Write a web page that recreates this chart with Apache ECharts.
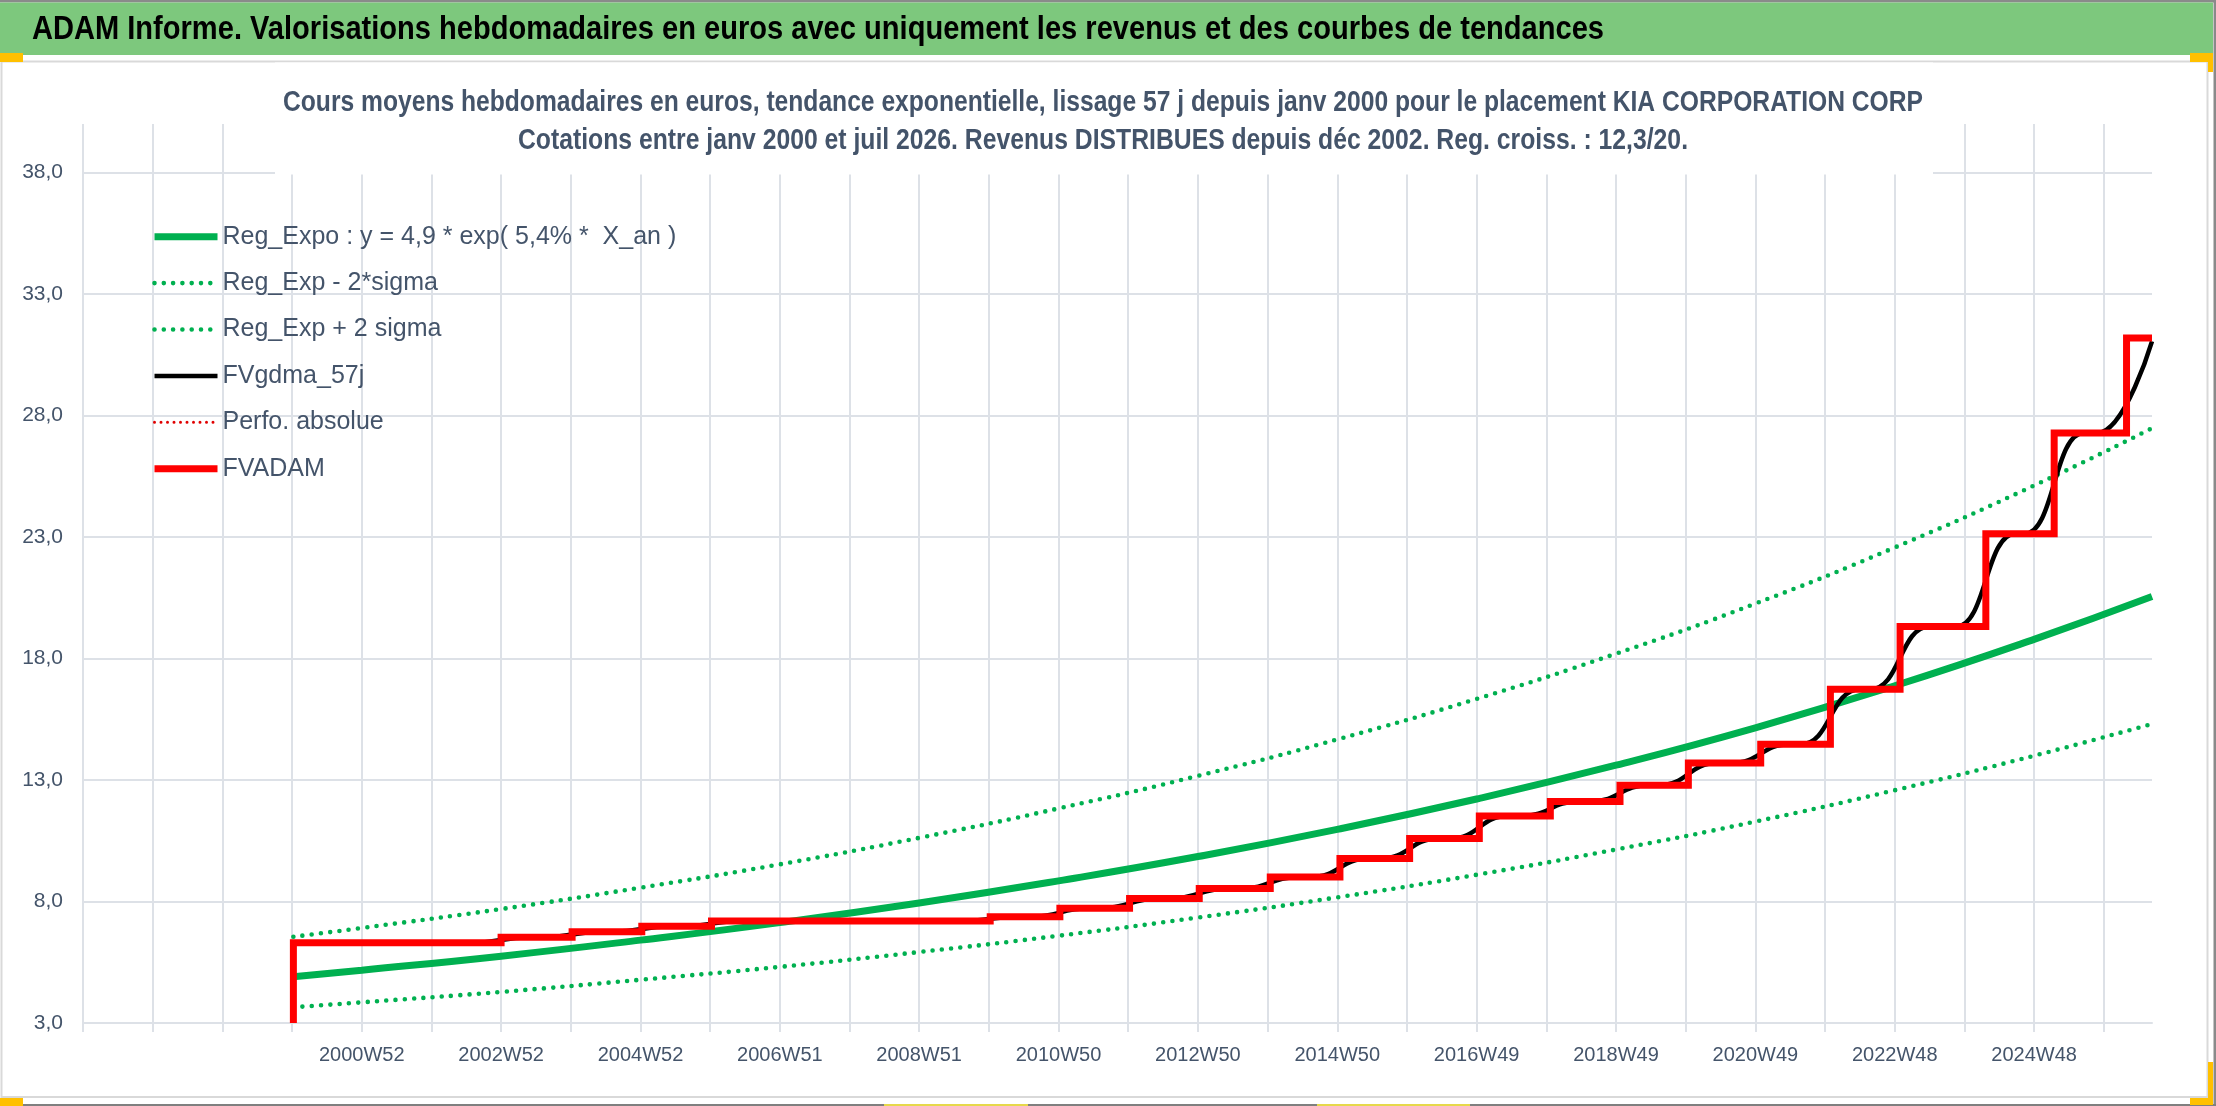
<!DOCTYPE html>
<html>
<head>
<meta charset="utf-8">
<script src="https://cdn.jsdelivr.net/npm/echarts@6.0.0/dist/echarts.min.js"></script>
<style>
html, body { margin: 0; padding: 0; background: #ffffff; }
#chart { width: 2216px; height: 1106px; }
</style>
</head>
<body>
<div id="chart"></div>
<script>
// ================= DATA =================
const mainTitle = 'ADAM Informe. Valorisations hebdomadaires en euros avec uniquement les revenus et des courbes de tendances';
const subTitle1 = 'Cours moyens hebdomadaires en euros, tendance exponentielle, lissage 57 j depuis janv 2000 pour le placement KIA CORPORATION CORP';
const subTitle2 = 'Cotations entre janv 2000 et juil 2026. Revenus DISTRIBUES depuis déc 2002. Reg. croiss. : 12,3/20.';

// weekly (ISO week) category axis
const firstWeek = '1997W01';
const weekCount = 1545;
const xTickLabels = ['2000W52', '2002W52', '2004W52', '2006W51', '2008W51', '2010W50', '2012W50',
  '2014W50', '2016W49', '2018W49', '2020W49', '2022W48', '2024W48'];
const yTicks = [3, 8, 13, 18, 23, 28, 33, 38];

const seriesNames = ['Reg_Expo : y = 4,9 * exp( 5,4% *  X_an )', 'Reg_Exp - 2*sigma', 'Reg_Exp + 2 sigma',
  'FVgdma_57j', 'Perfo. absolue', 'FVADAM'];

// exponential trend and its bands, read at the labelled weeks
const trendWeeks = ['2000W01', '2000W52', '2002W52', '2004W52', '2006W51', '2008W51', '2010W50', '2012W50',
  '2014W50', '2016W49', '2018W49', '2020W49', '2022W48', '2024W48', '2026W32'];
const regExpo = [4.90, 5.17, 5.75, 6.41, 7.13, 7.94, 8.85, 9.85, 10.97, 12.22, 13.61, 15.15, 16.88, 18.79, 20.55];
const regExpMinus2Sigma = [3.65, 3.85, 4.28, 4.78, 5.31, 5.92, 6.59, 7.34, 8.17, 9.10, 10.14, 11.29, 12.58, 14.00, 15.31];
const regExpPlus2Sigma = [6.55, 6.91, 7.69, 8.57, 9.53, 10.62, 11.83, 13.17, 14.67, 16.34, 18.20, 20.26, 22.57, 25.12, 27.48];

// FVADAM step line: week where the level changes, and the new level
const adamWeeks = ['2000W01', '2000W01', '2002W52', '2004W01', '2004W53', '2005W52', '2009W52', '2010W51',
  '2011W51', '2012W51', '2013W52', '2014W52', '2015W52', '2016W51', '2017W52', '2018W52', '2019W51',
  '2020W53', '2021W52', '2022W52', '2024W12', '2025W11', '2026W13', '2026W32'];
const fvAdam = [3.00, 6.30, 6.53, 6.76, 6.98, 7.20, 7.37, 7.72, 8.12, 8.54, 9.01, 9.77, 10.59, 11.52,
  12.12, 12.79, 13.70, 14.47, 16.74, 19.32, 23.14, 27.28, 31.19, 31.19];

// FVgdma_57j smoothed curve: weeks where it leaves one level and reaches the next one
const gdmaWeeks = ['2000W01', '2002W30', '2003W22', '2003W31', '2004W23', '2004W31', '2005W22', '2005W30',
  '2006W22', '2009W30', '2010W21', '2010W29', '2011W21', '2011W29', '2012W21', '2012W29', '2013W21',
  '2013W30', '2014W22', '2014W30', '2015W22', '2015W30', '2016W21', '2016W29', '2017W21', '2017W30',
  '2018W22', '2018W30', '2019W22', '2019W29', '2020W21', '2020W31', '2021W22', '2021W30', '2022W22',
  '2022W30', '2023W22', '2023W42', '2024W34', '2024W41', '2025W33', '2025W43', '2026W32'];
const fvGdma57j = [6.30, 6.30, 6.53, 6.53, 6.76, 6.76, 6.98, 6.98, 7.20, 7.20, 7.37, 7.37, 7.72, 7.72, 8.12,
  8.12, 8.54, 8.54, 9.01, 9.01, 9.77, 9.77, 10.59, 10.59, 11.52, 11.52, 12.12, 12.12, 12.79, 12.79, 13.70,
  13.70, 14.47, 14.47, 16.74, 16.74, 19.32, 19.32, 23.14, 23.14, 27.28, 27.28, 31.05];

const perfoAbsolue = [];

// ================= HELPERS =================
const DAY = 86400000;
function isoWeekMonday(label) {
  const parts = label.split('W').map(Number);
  const jan4 = Date.UTC(parts[0], 0, 4);
  const dow = (new Date(jan4).getUTCDay() + 6) % 7;
  return jan4 - dow * DAY + (parts[1] - 1) * 7 * DAY;
}
function isoWeekLabel(t) {
  const thu = new Date(t + 3 * DAY);
  const y = thu.getUTCFullYear();
  const w = Math.floor((thu.getTime() - Date.UTC(y, 0, 1)) / DAY / 7) + 1;
  return y + 'W' + String(w).padStart(2, '0');
}
const startMonday = isoWeekMonday(firstWeek);
const categories = [];
for (let i = 0; i < weekCount; i++) categories.push(isoWeekLabel(startMonday + i * 7 * DAY));
const tickSet = new Set(xTickLabels);
const pairs = (weeks, vals) => weeks.map((w, i) => [w, vals[i]]);

const measureCtx = document.createElement('canvas').getContext('2d');
function fontAvailable(name) {
  const t = 'abcdefghijklmnopqrstuvwxyzABCDEFGHIJ0123456789';
  measureCtx.font = '40px monospace';
  const w1 = measureCtx.measureText(t).width;
  measureCtx.font = '40px "' + name + '", monospace';
  const w2 = measureCtx.measureText(t).width;
  return Math.abs(w1 - w2) > 0.5;
}
const NARROW = fontAvailable('Liberation Sans Narrow');
const FF = NARROW ? 'Liberation Sans Narrow' : 'Liberation Sans';
const fs = s => Math.round(NARROW ? s : s * 0.82);
function fitScale(text, weight, size, target) {
  measureCtx.font = weight + ' ' + size + 'px "' + FF + '"';
  return target / measureCtx.measureText(text).width;
}

// ================= STYLE =================
const GREEN = '#00B050';
const RED = '#FF0000';
const TEXT = '#44546A';
const GRID = '#DDE1E7';

function fittedText(text, left, midY, size, target, color, z) {
  return {
    type: 'text', x: left, y: midY, z: z, silent: true,
    scaleX: fitScale(text, 'bold', size, target),
    style: {
      text: text, fontFamily: FF, fontSize: size, fontWeight: 'bold', fill: color,
      align: 'left', textAlign: 'left', verticalAlign: 'middle', textVerticalAlign: 'middle'
    }
  };
}
const rect = (x, y, w, h, fill, z) => ({ type: 'rect', z: z || 1, silent: true, shape: { x, y, width: w, height: h }, style: { fill } });

const option = {
  animation: false,
  backgroundColor: '#ffffff',
  textStyle: { fontFamily: FF },
  grid: { left: 83, right: 64, top: 124, bottom: 83 },
  legend: {
    orient: 'vertical', left: 151, top: 220.7, padding: 0,
    itemWidth: 63, itemHeight: 24, itemGap: 14.4, selectedMode: false,
    lineStyle: { width: 'inherit' },
    itemStyle: { opacity: 0, color: 'rgba(0,0,0,0)', borderWidth: 0 },
    textStyle: { color: TEXT, fontSize: fs(31), fontFamily: FF, lineHeight: 32 },
    data: seriesNames
  },
  graphic: [
    rect(0, 0, 2216, 2.5, '#8A8A8A'),
    rect(0, 2.5, 2213, 52.5, '#7DC87D'),
    rect(2213.5, 0, 2.5, 1106, '#8A8A8A'),
    rect(0, 1104, 2216, 2, '#7F7F7F'),
    { type: 'rect', z: 1, silent: true, shape: { x: 1.5, y: 61.5, width: 2206, height: 1035.5 }, style: { fill: 'none', stroke: '#D9D9D9', lineWidth: 2 } },
    rect(0, 53, 23, 9, '#FFC000', 3),
    rect(0, 1098, 23, 8, '#FFC000', 3),
    rect(2190, 53, 23, 9, '#FFC000', 3),
    rect(2208, 62, 5, 10, '#FFC000', 3),
    rect(2208, 1062, 5, 36, '#FFC000', 3),
    rect(2190, 1098, 23, 7, '#FFC000', 3),
    rect(884, 1104, 144, 2, '#E6D84A', 3),
    rect(1317, 1104, 153, 2, '#E6D84A', 3),
    rect(275, 62.5, 1658, 112, '#ffffff', 5),
    fittedText(mainTitle, 32, 30, 33, 1572, '#000000', 6),
    fittedText(subTitle1, 283, 103, 29, 1640, TEXT, 6),
    fittedText(subTitle2, 518, 141, 29, 1170, TEXT, 6)
  ],
  xAxis: {
    type: 'category', data: categories, boundaryGap: false,
    axisLine: { show: true, lineStyle: { color: GRID, width: 2 } },
    axisTick: { show: true, interval: 51, length: 9, lineStyle: { color: GRID, width: 2 } },
    axisLabel: {
      interval: (i, v) => tickSet.has(v), margin: 22,
      fontSize: fs(24), fontFamily: FF, color: TEXT
    },
    splitLine: { show: true, interval: 51, lineStyle: { color: GRID, width: 2 } }
  },
  yAxis: {
    type: 'value', min: 3, max: 40,
    axisLine: { show: false },
    axisTick: { show: false, customValues: yTicks },
    axisLabel: {
      customValues: yTicks, margin: 20, fontSize: fs(25), fontFamily: FF, color: TEXT,
      formatter: v => Number(v).toFixed(1).replace('.', ',')
    },
    splitLine: { show: true, customValues: yTicks, lineStyle: { color: GRID, width: 2 } }
  },
  series: [
    {
      name: seriesNames[0], type: 'line', data: pairs(trendWeeks, regExpo), smooth: true,
      symbol: 'none', silent: true, itemStyle: { color: GREEN },
      lineStyle: { color: GREEN, width: 7 }
    },
    {
      name: seriesNames[1], type: 'line', data: pairs(trendWeeks, regExpMinus2Sigma), smooth: true,
      symbol: 'none', silent: true, itemStyle: { color: GREEN },
      lineStyle: { color: GREEN, width: 4.6, type: [0, 9.3], cap: 'round' }
    },
    {
      name: seriesNames[2], type: 'line', data: pairs(trendWeeks, regExpPlus2Sigma), smooth: true,
      symbol: 'none', silent: true, itemStyle: { color: GREEN },
      lineStyle: { color: GREEN, width: 4.6, type: [0, 9.3], cap: 'round' }
    },
    {
      name: seriesNames[3], type: 'line', data: pairs(gdmaWeeks, fvGdma57j),
      smooth: 0.5, smoothMonotone: 'x',
      symbol: 'none', silent: true, itemStyle: { color: '#000000' },
      lineStyle: { color: '#000000', width: 4.5 }
    },
    {
      name: seriesNames[4], type: 'line', data: perfoAbsolue,
      symbol: 'none', silent: true, itemStyle: { color: '#C00000' },
      lineStyle: { color: '#E00000', width: 3, type: [0, 6.5], cap: 'round' }
    },
    {
      name: seriesNames[5], type: 'line', data: pairs(adamWeeks, fvAdam), step: 'end',
      symbol: 'none', silent: true, itemStyle: { color: RED },
      lineStyle: { color: RED, width: 7, join: 'miter' }
    }
  ]
};

const chart = echarts.init(document.getElementById('chart'), null, { renderer: 'canvas' });
chart.setOption(option);
</script>
</body>
</html>
